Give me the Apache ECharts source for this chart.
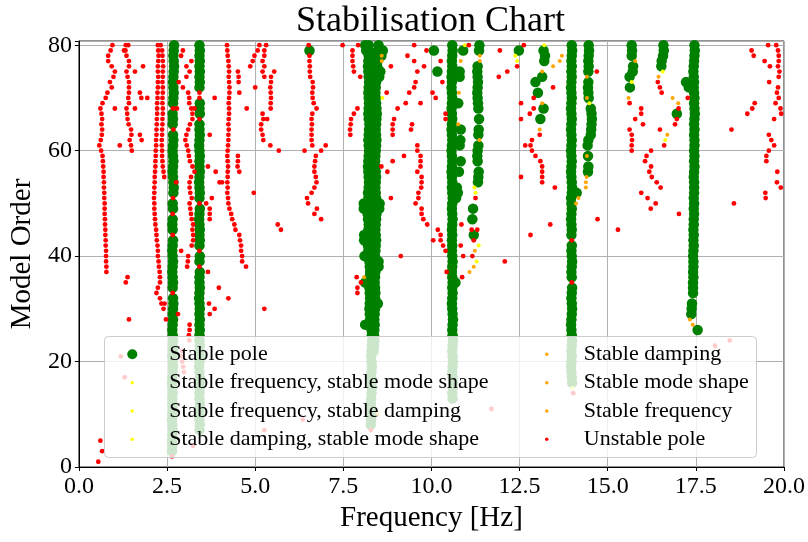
<!DOCTYPE html>
<html>
<head>
<meta charset="utf-8">
<title>Stabilisation Chart</title>
<script src="https://cdn.jsdelivr.net/npm/echarts@6/dist/echarts.min.js"></script>
<style>
  html, body { margin: 0; padding: 0; background: #fff; }
  #main { width: 808px; height: 542px; }
</style>
</head>
<body>
<div id="main"></div>
<script>
// column tracks: [first model order, frequency for each consecutive order] (null = no pole of that kind)
const stableColumns = [
  [3, [2.64, 2.65, 2.64, 2.65, 2.66, 2.65, 2.64, 2.65, 2.66, 2.65,
       2.65, 2.66, 2.65, 2.64, 2.65, 2.66, 2.67, 2.66, 2.65, 2.66,
       2.66, 2.67, 2.66, 2.65, 2.66, 2.67, 2.66, 2.67, 2.68, 2.67,
       null, 2.66, 2.67, 2.66, 2.65, 2.66, 2.67, 2.66, 2.65, 2.66, 2.67,
       null, 2.66, 2.65, 2.66, null, 2.67, 2.66, null,
       2.68, 2.69, 2.68, 2.67, 2.66, 2.67, 2.68, 2.67, 2.66, 2.67, 2.68, 2.67,
       null, 2.66, 2.67, 2.66, null,
       2.67, 2.68, 2.69, 2.68, 2.67, 2.68, 2.69, 2.70, 2.69, 2.68, 2.69, 2.70]],
  [7, [3.42, 3.43, 3.42, 3.41, 3.42, 3.43, 3.42, 3.42, 3.43, 3.42,
       3.43, 3.42, 3.41, 3.42, 3.43, 3.42, 3.43, 3.42, 3.42, 3.43,
       3.42, 3.43, 3.42, 3.43, 3.42, 3.41, 3.42, 3.43, 3.42, 3.42, 3.43,
       null, 3.42, 3.43, null, 3.42, 3.43, 3.42, 3.43, 3.42, 3.41, 3.42, 3.43, null,
       3.42, 3.43, 3.42, 3.41, 3.42, 3.43, 3.42, 3.42, 3.43, 3.42, 3.41, 3.42, 3.43, 3.42, 3.42,
       null, 3.43, 3.42, 3.43, null, null,
       3.42, 3.43, 3.42, 3.43, 3.42, 3.43, 3.42, 3.43, 3.42]],
  [8, [8.28, 8.29, 8.30, 8.29, 8.28, 8.29, 8.30, 8.31, 8.30, 8.29,
       8.30, 8.31, 8.30, 8.29, 8.30, 8.31, 8.32, 8.31, 8.30, 8.29,
       8.26, 8.25, 8.24, 8.25, 8.26, 8.25, 8.24, 8.22, 8.24, 8.26,
       8.25, 8.24, 8.22, 8.21, 8.20, 8.19, 8.20, 8.21, 8.22, 8.20,
       8.19, 8.20, 8.22, 8.21, 8.20, 8.22, 8.23, 8.22, 8.21, 8.20,
       8.21, 8.22, 8.23, 8.22, 8.21, 8.22, 8.23, 8.24, 8.22, 8.21,
       8.22, 8.23, 8.22, 8.21, 8.22, 8.23, 8.22, 8.21, 8.20, 8.21, 8.22, 8.23, 8.22]],
  [22, [8.36, 8.37, 8.38, 8.37, 8.38, 8.39, 8.38, 8.39, 8.40, 8.39,
        8.40, 8.41, 8.40, 8.39, 8.40, 8.41, 8.42, 8.41, 8.40, 8.41,
        8.42, 8.43, 8.42, 8.41, 8.42, 8.43, 8.44, 8.43, 8.42, 8.43,
        8.42, 8.41, 8.42, 8.43, 8.42, 8.41, 8.40, 8.41, 8.42, 8.43,
        8.44, 8.43, 8.42, 8.43, 8.44, 8.45, 8.44, 8.43, 8.42, 8.41,
        8.42, 8.43, 8.44, 8.45, 8.46, 8.47, 8.48, 8.49, 8.50]],
  [13, [10.60, 10.59, 10.60, 10.61, 10.60, 10.59, 10.60, 10.61, 10.60, 10.59,
        10.60, 10.61, 10.60, 10.59, 10.60, 10.61, 10.60, 10.59, 10.58, 10.59,
        10.60, 10.59, 10.60, 10.59, 10.58, 10.59, 10.60, 10.59, 10.58, 10.59,
        10.58, 10.59, 10.58, 10.59, 10.60, 10.59, 10.58, 10.59, 10.60, 10.59,
        10.58, 10.59, 10.58, 10.57, 10.58, 10.59, 10.58, 10.57, 10.58, 10.59,
        10.58, 10.57, 10.58, 10.59, 10.58, 10.57, 10.58, 10.59, 10.58, 10.57,
        10.58, 10.57, 10.58, 10.59, 10.58, 10.59, 10.60, 10.59]],
  [54, [11.32, 11.33, 11.34, null, 11.31, 11.30, 11.31, 11.33, null, 11.33, 11.34, null, 11.35, null,
        11.33, 11.32, 11.31, 11.30, 11.31, 11.32, 11.31, 11.30, 11.31, null, null, 11.35, 11.36]],
  [16, [13.99, 13.98, 13.97, 13.96, 13.97, 13.98, 13.97, 13.98, 13.99, 13.98,
        13.97, 13.96, 13.97, 13.98, 13.99, 13.98, 13.97, 13.98, 13.99, null,
        13.98, 13.97, 13.98, 13.99, 13.98, 13.97, 13.98, null, 13.97, 13.98,
        13.97, 13.96, 13.97, 13.98, 13.97, 13.96, 13.98, 13.99, 13.98, 13.97,
        13.96, 13.97, 13.98, 13.97, 13.96, 13.97, 13.98, 13.97, 13.96, 13.97,
        13.98, 13.97, 13.96, 13.97, 13.98, 13.97, 13.96, 13.97, 13.98, 13.97,
        13.98, 13.97, 13.98, 13.99, 13.98]],
  [56, [14.44, 14.45, null, 14.44, null, 14.43, 14.45, 14.52, 14.53, 14.54, 14.55, 14.54, 14.52, null,
        14.46, 14.45, 14.44, 14.45, null, 14.45, 14.46, 14.45, 14.46, 14.47, 14.46]],
  [26, [17.55, null, null, 17.37, 17.38, 17.39, null, 17.42,
        17.42, 17.42, 17.43, 17.42, 17.43, 17.43, 17.42, 17.43, 17.44, 17.43,
        17.44, 17.43, 17.44, 17.44, 17.45, 17.44, 17.45, 17.44, 17.45, 17.45,
        17.45, 17.44, 17.45, 17.46, 17.45, 17.46, 17.45, 17.46, 17.46, 17.45,
        17.46, 17.45, 17.46, 17.47, 17.46, 17.45, 17.46, 17.45, 17.44, 17.45,
        17.44, 17.43, 17.44, 17.45, 17.46, 17.47, 17.46]]
];

const stableSingles = [
  [6.54, 79], [10.07, 79], [10.17, 75], [12.48, 79], [13.18, 79], [13.22, 78], [13.20, 77],
  [13.14, 74], [12.95, 73], [13.02, 71], [13.18, 68], [13.09, 66],
  [15.68, 80], [15.69, 79], [15.68, 78], [15.72, 76], [15.71, 75], [15.62, 74], [15.63, 72],
  [16.58, 80], [16.59, 79], [16.57, 78], [16.53, 77], [16.52, 76], [16.96, 67], [17.22, 73], [17.30, 72],
  [8.62, 79], [8.58, 78], [8.12, 80], [8.15, 79], [8.55, 75], [8.52, 74], [8.08, 50], [8.08, 49],
  [8.09, 44], [8.09, 43], [8.10, 40], [8.12, 35], [8.12, 27], [8.53, 50], [8.52, 49], [8.50, 39],
  [8.50, 38], [8.48, 31],
  [10.90, 79], [10.80, 75], [10.80, 74], [10.76, 69], [10.83, 64], [10.82, 62], [10.80, 61],
  [10.83, 58], [10.78, 56], [10.72, 53], [10.75, 52], [10.70, 51], [10.68, 35],
  [11.18, 49], [11.16, 47], [11.20, 44], [14.12, 52]
];

const freqModeShape = [[8.61, 70], [10.95, 80], [12.38, 78], [12.43, 77], [13.20, 80]];
const freqDamping = [[14.48, 69], [11.22, 53], [11.25, 52], [11.34, 42], [11.28, 39]];
const dampingModeShape = [[15.68, 73], [16.56, 75], [16.63, 62], [14.00, 15]];

const stableDamping = [[8.59, 78], [8.59, 77], [10.83, 77], [10.78, 71], [10.76, 65], [11.37, 78],
  [11.37, 77], [11.36, 62], [13.14, 75], [13.45, 76], [13.64, 77], [13.70, 78]];
const stableModeShape = [[13.14, 69], [13.07, 64], [14.41, 74], [14.41, 70], [14.41, 59], [14.40, 55],
  [14.38, 54], [14.38, 53], [14.17, 51], [14.10, 50], [15.78, 77], [15.59, 70]];
const stableFrequency = [[16.44, 74], [16.84, 70], [17.00, 69], [16.69, 63], [17.33, 28], [17.41, 27],
  [11.23, 41], [11.20, 38], [11.08, 37], [8.09, 36], [8.47, 10]];

const unstableTracks = [
  [37, [0.78, 0.78, 0.77, 0.77, 0.77, 0.76, 0.76, 0.75, 0.75, 0.74, 0.74, 0.73, 0.73, 0.73, 0.72,
        0.72, 0.71, 0.71, 0.70, 0.70, 0.69, 0.68, 0.67, 0.63, 0.58, 0.62, 0.65, 0.66, 0.64, 0.66,
        0.64, 0.61, 0.67, 0.76, 0.81, 0.93, 0.88, 0.98, 1.02, 0.93, 0.83, 0.83, 0.90, 0.95]],
  [60, [1.50, 1.48, 1.44, 1.49, 1.48, 1.41, 1.38, 1.37, 1.35, 1.42, 1.40, 1.42, 1.42, 1.42, 1.38,
        1.35, 1.42, 1.42, 1.35, 1.32, 1.33]],
  [31, [2.34, 2.30, 2.20, 2.24, 2.30, 2.30, 2.29, 2.27, 2.26, 2.24,
        2.24, 2.23, 2.21, 2.20, 2.19, 2.17, 2.16, 2.15, 2.14, 2.14,
        2.13, 2.14, 2.14, 2.15, 2.15, 2.16, 2.17, 2.17, 2.18, 2.18,
        2.19, 2.19, 2.20, 2.20, 2.21, 2.21, 2.22, 2.22, 2.22, 2.23,
        2.23, 2.24, 2.24, 2.25, 2.24, 2.24, 2.25, 2.26, 2.25, 2.24]],
  [55, [2.42, 2.40, 2.38, 2.37, 2.36, 2.36, 2.35, 2.35, 2.36, 2.36, 2.37, 2.37, 2.38, 2.38, 2.37,
        2.37, 2.38, 2.38, 2.37, 2.38, 2.38, 2.39, 2.38, 2.37, 2.36, 2.32]],
  [38, [3.07, 3.09, 3.10, 2.90, 3.20, 3.24, 3.24, 3.22, 3.24, 3.20, 3.18, 3.16, 3.14, 3.20, 3.16,
        3.14, 3.14, 3.18, 3.28, 3.22, 3.15, 3.12, 3.10, 3.06, 3.02, 3.05, 3.10, 3.15, 3.22, 3.22,
        3.19, 3.13, 3.13, 3.10, 2.95, 2.83, 3.05, 3.14, 3.05, 3.19, 2.90, 2.95, null]],
  [38, [4.74, 4.63, 4.63, 4.60, 4.60, 4.57, 4.55, 4.44, 4.41, 4.35, 4.32, 4.27, 4.24, 4.23, 4.21,
        4.22, 4.21, 4.22, 4.22, 4.23, 4.22, 4.21, 4.22, 4.23, 4.24, 4.24, 4.25, 4.24, 4.25, 4.26,
        4.26, 4.25, 4.26, 4.27, 4.27, 4.26, 4.25, 4.26, 4.25, 4.24, 4.22, 4.21, 4.20]],
  [47, [6.87, 6.68, 6.75, 6.50, 6.47, 6.60, 6.68, 6.74, 6.72, 6.68, 6.68, 6.70, 6.72, 6.87, 6.62,
        6.60, 6.60, 6.60, 6.61, 6.60, 6.62, 6.74, 6.66, 6.63, 6.62, 6.64, 6.63, 6.56, 6.55, 6.55,
        6.54, 6.54]],
  [63, [7.70, 7.69, 7.71, 7.72, 7.80, 7.90, null, null, null, null, null, 7.98, 7.80, 7.78, 7.76,
        7.76, 7.76, 7.92]],
  [41, [10.40, 10.33, 10.26, 10.26, 10.18, 9.88, 9.77, 9.72, 9.72, 9.55, 9.63, 9.63, 9.71, 9.72,
        9.72, 9.60, 9.69, 9.69, 9.69, 9.60, 9.60]]
];

const unstableSingles = [
  [2.66, 33], [2.66, 44], [2.66, 48], [2.67, 51], [2.68, 64], [2.67, 68], [3.42, 38], [3.42, 41],
  [3.42, 50], [3.42, 66], [3.42, 70], [3.42, 71], [13.98, 35], [13.98, 43], [2.64, 2],
  [1.02, 68], [1.16, 61], [1.82, 76], [1.59, 75], [1.73, 71], [1.77, 70], [1.94, 70], [1.59, 68],
  [1.73, 63], [1.78, 62], [1.40, 80], [1.28, 79], [1.38, 36], [1.33, 35], [1.42, 28], [1.19, 21],
  [1.30, 17], [0.61, 5], [0.66, 3], [0.55, 1],
  [2.43, 31], [2.40, 30], [2.47, 28], [2.78, 68], [3.28, 68], [2.76, 54], [2.81, 29], [3.14, 27],
  [3.14, 26], [3.12, 25], [3.13, 24], [2.93, 22], [2.92, 21], [2.93, 20], [2.96, 19], [2.98, 18],
  [3.24, 4],
  [3.85, 70], [3.71, 63], [3.66, 57], [3.88, 56], [3.99, 54], [4.06, 54], [3.77, 51], [3.61, 50],
  [3.71, 49], [3.71, 48], [3.71, 47], [3.66, 37], [3.97, 34], [4.24, 32], [3.69, 31], [3.85, 30],
  [3.71, 29],
  [5.12, 80], [5.31, 80], [5.07, 79], [5.26, 79], [4.98, 78], [5.26, 78], [4.93, 77], [5.21, 77],
  [4.86, 76], [5.26, 76], [4.51, 75], [5.21, 75], [5.54, 75], [4.53, 74], [5.26, 74], [5.45, 74],
  [4.53, 73], [5.45, 73], [5.43, 72], [5.00, 72], [4.55, 71], [5.44, 71], [5.45, 70], [5.44, 69],
  [4.76, 68], [5.44, 68], [5.21, 67], [5.23, 66], [5.34, 66], [5.17, 65], [5.17, 64], [5.21, 63],
  [5.23, 62], [5.43, 61], [5.67, 60], [4.51, 59], [4.51, 58], [4.50, 57], [4.55, 56], [4.96, 52],
  [5.64, 46], [5.73, 45], [5.26, 30], [5.26, 7], [6.35, 9],
  [6.40, 60], [7.00, 61], [6.52, 80], [7.48, 80], [7.88, 36], [8.00, 35], [7.90, 34], [7.90, 33],
  [8.28, 7],
  [8.85, 76], [8.73, 71], [9.04, 68], [8.94, 66], [8.90, 65], [8.90, 64], [8.90, 63], [8.90, 58],
  [8.58, 57], [8.75, 56], [9.22, 59], [9.45, 65], [9.42, 64], [8.85, 51], [9.13, 40],
  [9.27, 69], [9.37, 71], [9.51, 72], [9.55, 73], [9.60, 75], [9.79, 76], [9.51, 77], [9.32, 78],
  [9.86, 79], [9.51, 80], [9.69, 69], [10.03, 71], [10.12, 70], [10.31, 73], [10.26, 77],
  [10.05, 43], [10.40, 67], [10.40, 66], [10.43, 37],
  [11.06, 80], [11.94, 79], [12.15, 75], [11.91, 74], [12.62, 80], [12.43, 76], [13.45, 72],
  [12.54, 69], [12.54, 66], [12.90, 70], [12.90, 68], [12.79, 67], [13.07, 63], [12.85, 62],
  [12.66, 61], [12.81, 61], [12.85, 60], [12.95, 59], [13.09, 58], [13.14, 57], [13.14, 56],
  [13.14, 55], [13.14, 54], [13.50, 53], [12.54, 55], [13.37, 46], [12.81, 44], [12.08, 39],
  [11.70, 11],
  [10.85, 46], [10.83, 42], [10.90, 40], [11.16, 40], [10.87, 36], [11.14, 45], [11.30, 45],
  [11.20, 43], [11.25, 51],
  [14.69, 75], [14.71, 47], [15.29, 45], [14.02, 14],
  [15.62, 69], [15.95, 68], [15.95, 67], [15.78, 66], [16.00, 65], [15.62, 64], [15.68, 63],
  [15.69, 62], [15.68, 61], [15.68, 60], [16.23, 60], [16.10, 59], [16.06, 58], [16.23, 57],
  [16.18, 56], [16.25, 55], [16.39, 54], [16.50, 53], [15.95, 52], [16.13, 51], [16.36, 50],
  [16.22, 49], [17.02, 48],
  [16.48, 72], [16.53, 71], [16.48, 64], [16.60, 61], [17.01, 68], [16.96, 66], [16.91, 65],
  [17.27, 70], [16.42, 73],
  [19.55, 80], [19.78, 80], [19.83, 79], [19.08, 79], [19.85, 78], [19.14, 78], [19.85, 77],
  [19.45, 77], [19.83, 76], [19.60, 76], [19.87, 75], [19.85, 74], [19.58, 73], [19.83, 72],
  [19.80, 71], [19.85, 70], [19.76, 69], [19.17, 69], [19.90, 68], [19.10, 68], [19.92, 67],
  [18.96, 67], [19.72, 66], [18.51, 64], [19.57, 63], [19.64, 62], [19.72, 61], [19.57, 60],
  [19.50, 59], [19.50, 58], [19.81, 56], [19.80, 54], [19.91, 53], [19.47, 52], [19.48, 51],
  [18.58, 50], [18.04, 23], [18.46, 24]
];

const xTicks = [0, 2.5, 5, 7.5, 10, 12.5, 15, 17.5, 20];
const yTicks = [0, 20, 40, 60, 80];

function expand(tracks) {
  const pts = [];
  tracks.forEach(function (t) {
    t[1].forEach(function (f, i) {
      if (f !== null) pts.push([f, t[0] + i]);
    });
  });
  return pts;
}

const serif = "'Liberation Serif', 'DejaVu Serif', serif";
const legendText = { fontFamily: serif, fontSize: 22, color: '#000', lineHeight: 28 };

function scatter(name, data, color, size) {
  return {
    name: name,
    type: 'scatter',
    data: data,
    symbol: 'circle',
    symbolSize: size,
    itemStyle: { color: color, opacity: 1 },
    silent: true
  };
}

const chart = echarts.init(document.getElementById('main'), null, { renderer: 'canvas' });

// legend icons are laid out from the circle's own left edge, so left = circle centre - radius
chart.setOption({
  animation: false,
  backgroundColor: '#fff',
  title: {
    text: 'Stabilisation Chart',
    left: 430.5,
    top: 4,
    padding: 0,
    textAlign: 'center',
    textStyle: { fontFamily: serif, fontSize: 36, fontWeight: 'normal', color: '#000' }
  },
  grid: { left: 77, right: 24, top: 41, bottom: 75, show: true, borderColor: '#222', borderWidth: 1 },
  xAxis: {
    type: 'value',
    min: xTicks[0],
    max: xTicks[xTicks.length - 1],
    interval: xTicks[1] - xTicks[0],
    name: 'Frequency [Hz]',
    nameLocation: 'middle',
    nameGap: 36,
    nameTextStyle: { fontFamily: serif, fontSize: 29, color: '#000' },
    axisLine: { onZero: false, lineStyle: { color: '#000', width: 1 } },
    axisTick: { length: 4, lineStyle: { color: '#000' } },
    axisLabel: { fontFamily: serif, fontSize: 24, color: '#000', margin: 8,
      formatter: function (v) { return v.toFixed(1); } },
    splitLine: { show: true, lineStyle: { color: '#b0b0b0', width: 1 } }
  },
  yAxis: {
    type: 'value',
    min: yTicks[0],
    max: 80.8,
    interval: yTicks[1] - yTicks[0],
    name: 'Model Order',
    nameLocation: 'middle',
    nameGap: 40,
    nameTextStyle: { fontFamily: serif, fontSize: 29, color: '#000' },
    axisLine: { onZero: false, lineStyle: { color: '#000', width: 1 } },
    axisTick: { length: 4, lineStyle: { color: '#000' } },
    axisLabel: { fontFamily: serif, fontSize: 24, color: '#000', margin: 7,
      formatter: function (v) { return yTicks.indexOf(v) >= 0 ? String(v) : ''; } },
    splitLine: { show: true, lineStyle: { color: '#b0b0b0', width: 1 } }
  },
  graphic: [{
    type: 'rect',
    left: 104,
    top: 336,
    z: 3,
    silent: true,
    shape: { width: 652, height: 121, r: 4 },
    style: { fill: 'rgba(255,255,255,0.8)', stroke: '#cccccc', lineWidth: 1 }
  }],
  legend: [
    { data: ['Stable pole'], orient: 'vertical', left: 127.3, top: 340.3, padding: 0,
      itemWidth: 64, itemHeight: 10, icon: 'circle', selectedMode: false, z: 5, textStyle: legendText },
    { data: ['Stable frequency, stable mode shape', 'Stable frequency, stable damping',
             'Stable damping, stable mode shape'],
      orient: 'vertical', left: 130.5, top: 368.7, padding: 0, itemGap: 0.33,
      itemWidth: 64, itemHeight: 3.5, icon: 'circle', selectedMode: false, z: 5, textStyle: legendText },
    { data: ['Stable damping', 'Stable mode shape', 'Stable frequency', 'Unstable pole'],
      orient: 'vertical', left: 545, top: 340.3, padding: 0, itemGap: 0.33,
      itemWidth: 64, itemHeight: 3.5, icon: 'circle', selectedMode: false, z: 5, textStyle: legendText }
  ],
  series: [
    scatter('Stable pole', expand(stableColumns).concat(stableSingles), '#008000', 10.5),
    scatter('Stable frequency, stable mode shape', freqModeShape, '#ffff00', 4),
    scatter('Stable frequency, stable damping', freqDamping, '#ffff00', 4),
    scatter('Stable damping, stable mode shape', dampingModeShape, '#ffff00', 4),
    scatter('Stable damping', stableDamping, '#ffa500', 4),
    scatter('Stable mode shape', stableModeShape, '#ffa500', 4),
    scatter('Stable frequency', stableFrequency, '#ffa500', 4),
    scatter('Unstable pole', expand(unstableTracks).concat(unstableSingles), '#ff0000', 4.8)
  ]
});
</script>
</body>
</html>
